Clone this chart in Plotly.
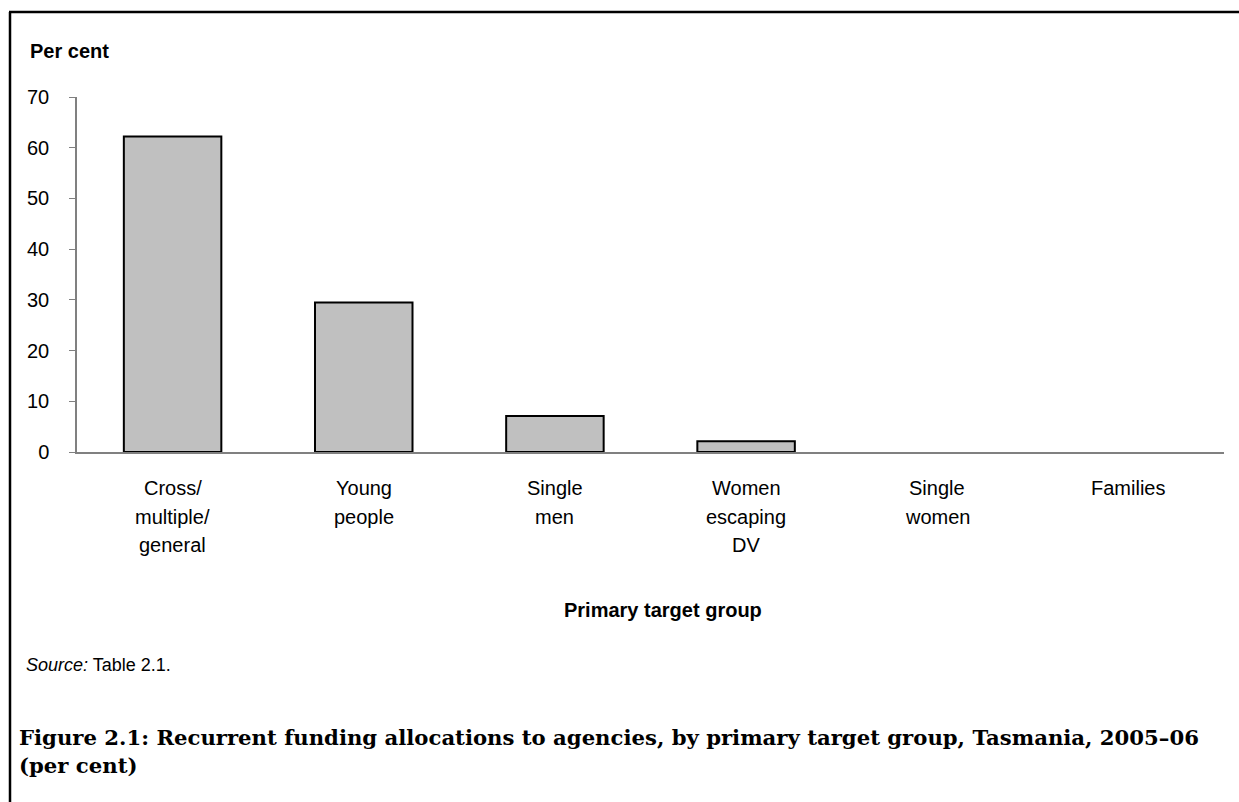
import plotly.graph_objects as go

categories = ["Cross/<br>multiple/<br>general", "Young<br>people", "Single<br>men",
              "Women<br>escaping<br>DV", "Single<br>women", "Families"]
values = [62.2, 29.5, 7.1, 2.1, 0, 0]
y_ticks = [0, 10, 20, 30, 40, 50, 60, 70]

W, H = 1239, 802
ML, MR, MT, MB = 77, 15, 97, 350
PW, PH = W - ML - MR, H - MT - MB

def px(xpix):
    return (xpix - ML) / PW

def py(ypix):
    return (H - MB - ypix) / PH

SANS = "Liberation Sans, Arial, sans-serif"
SERIF = "DejaVu Serif, serif"

fig = go.Figure()
fig.add_trace(go.Bar(
    x=list(range(len(categories))), y=values,
    marker=dict(color="#C0C0C0",
                line=dict(color="black", width=[2 if v > 0 else 0 for v in values])),
    hoverinfo="skip",
))

annotations = []
line_shifts = [-36, -65, -93]
for i, cat in enumerate(categories):
    for j, part in enumerate(cat.split("<br>")):
        annotations.append(dict(
            x=i, y=0, xref="x", yref="y", text=part, showarrow=False,
            xanchor="center", yanchor="middle", yshift=line_shifts[j],
            font=dict(family=SANS, size=20, color="black"),
        ))

annotations += [
    dict(x=px(28), y=py(51), xref="paper", yref="paper", text="<b>Per cent</b>",
         showarrow=False, xanchor="left", yanchor="middle",
         font=dict(family=SANS, size=20, color="black")),
    dict(x=px(663), y=py(610), xref="paper", yref="paper", text="<b>Primary target group</b>",
         showarrow=False, xanchor="center", yanchor="middle",
         font=dict(family=SANS, size=20, color="black")),
    dict(x=px(24), y=py(665), xref="paper", yref="paper", text="<i>Source:</i> Table 2.1.",
         showarrow=False, xanchor="left", yanchor="middle",
         font=dict(family=SANS, size=18, color="black")),
    dict(x=px(17), y=py(737), xref="paper", yref="paper",
         text="<b>Figure 2.1: Recurrent funding allocations to agencies, by primary target group, Tasmania, 2005–06</b>",
         showarrow=False, xanchor="left", yanchor="middle",
         font=dict(family=SERIF, size=21.2, color="black")),
    dict(x=px(17), y=py(765), xref="paper", yref="paper", text="<b>(per cent)</b>",
         showarrow=False, xanchor="left", yanchor="middle",
         font=dict(family=SERIF, size=21.2, color="black")),
]

shapes = [
    dict(type="line", xref="paper", yref="paper", x0=px(10), x1=px(10), y0=py(12), y1=py(810),
         line=dict(color="black", width=2.5)),
    dict(type="line", xref="paper", yref="paper", x0=px(9), x1=px(1250), y0=py(12), y1=py(12),
         line=dict(color="black", width=2.5)),
]

fig.update_layout(
    width=W, height=H,
    margin=dict(l=ML, r=MR, t=MT, b=MB),
    paper_bgcolor="white", plot_bgcolor="white",
    showlegend=False, bargap=0.49,
    annotations=annotations, shapes=shapes,
    xaxis=dict(range=[-0.5, len(categories) - 0.5], showticklabels=False, ticks="",
               showgrid=False, zeroline=False, showline=True, linecolor="#808080", linewidth=1.5,
               fixedrange=True),
    yaxis=dict(range=[0, 70], tickvals=y_ticks, ticks="outside", ticklen=6, tickcolor="#808080",
               tickwidth=1, showgrid=False, zeroline=False, showline=True, linecolor="#808080",
               linewidth=1.5, ticklabelstandoff=16,
               tickfont=dict(family=SANS, size=20, color="black"), fixedrange=True),
)

fig.write_html("out.html", config={"displayModeBar": False},
               post_script="document.body.style.margin='0';document.body.style.overflow='hidden';")
